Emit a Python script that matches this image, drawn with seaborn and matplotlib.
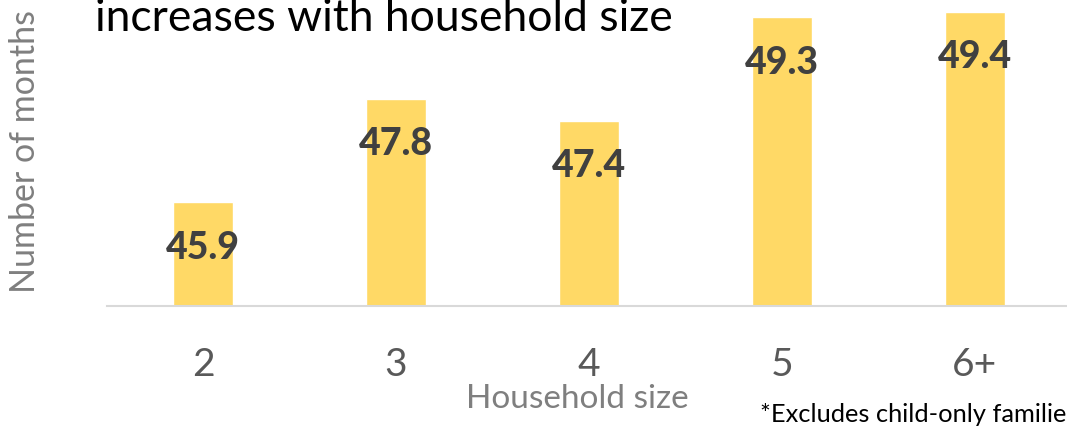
import matplotlib
matplotlib.use("Agg")
import matplotlib.pyplot as plt
import seaborn as sns
import pandas as pd

# Average months of assistance by household size
household_sizes = ["2", "3", "4", "5", "6+"]
avg_months = [45.9, 47.8, 47.4, 49.3, 49.4]

title_line = "increases with household size"
x_title = "Household size"
y_title = "Number of months"
footnote = "*Excludes child-only families"

BAR_COLOR = "#FFD966"
VALUE_COLOR = "#404040"
TICK_COLOR = "#595959"
AXIS_TITLE_COLOR = "#7F7F7F"
SPINE_COLOR = "#D9D9D9"

sns.set_style("white")
plt.rcParams["font.family"] = ["Lato", "DejaVu Sans"]

df = pd.DataFrame({"size": household_sizes, "months": avg_months})

fig = plt.figure(figsize=(10.67, 4.27), dpi=100)
W, H = 1067, 427
ax_left, ax_right = 106.5, 1071.5
ax_base = 307
px_per_unit = 54.5
y_min, y_max = 44, 50
ax = fig.add_axes([ax_left / W, (H - ax_base) / H,
                   (ax_right - ax_left) / W, (y_max - y_min) * px_per_unit / H])

sns.barplot(data=df, x="size", y="months", color=BAR_COLOR, width=0.31,
            saturation=1, ax=ax)
ax.set_ylim(y_min, y_max)
ax.set_xlim(-0.5, len(household_sizes) - 0.5)

# value labels sit inside the top of each bar
for i, v in enumerate(avg_months):
    ax.annotate(f"{v}", (i, v), xytext=(0, -32), textcoords="offset points",
                ha="center", va="center", fontsize=27, fontweight="black",
                color=VALUE_COLOR)

for side in ("top", "right", "left"):
    ax.spines[side].set_visible(False)
ax.spines["bottom"].set_color(SPINE_COLOR)
ax.spines["bottom"].set_linewidth(1.5)
ax.set_yticks([])
ax.tick_params(axis="x", length=0, pad=29, labelsize=28, labelcolor=TICK_COLOR)

ax.set_xlabel(x_title, fontsize=24, color=AXIS_TITLE_COLOR, va="center")
ax.xaxis.set_label_coords((577 - ax_left) / (ax_right - ax_left),
                          -(399 - ax_base) / ((y_max - y_min) * px_per_unit))
ax.set_ylabel(y_title, fontsize=24.5, color=AXIS_TITLE_COLOR, va="center")
ax.yaxis.set_label_coords((25 - ax_left) / (ax_right - ax_left),
                          (ax_base - 152) / ((y_max - y_min) * px_per_unit))

fig.text(95 / W, (H - 31) / H, title_line, fontsize=32, color="black",
         ha="left", va="baseline")
fig.text(760 / W, 5 / H, footnote, fontsize=18.3, color="black",
         ha="left", va="baseline")

fig.savefig("out.png", dpi=100)
